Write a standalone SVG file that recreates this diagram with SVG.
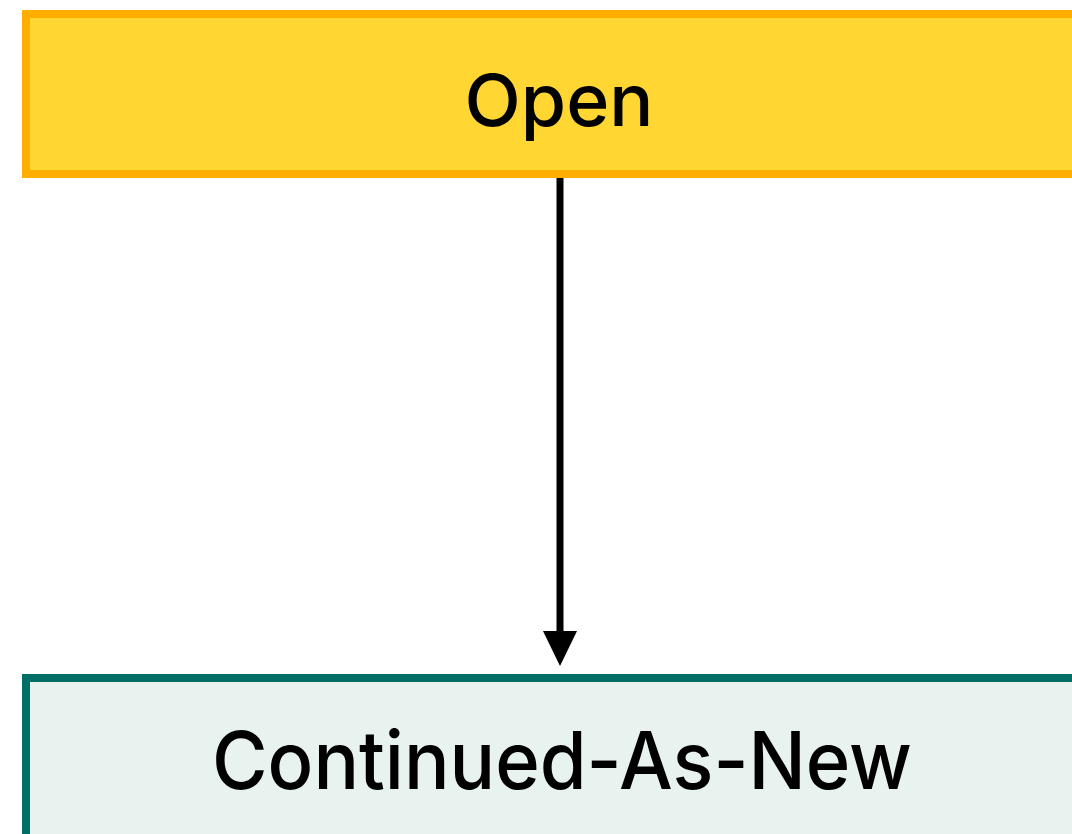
<svg xmlns="http://www.w3.org/2000/svg" width="1072" height="834" viewBox="0 0 1072 834">
<style>
.lbl{font-family:Inter,"Liberation Sans",Arial,sans-serif;font-weight:500;fill:#000;text-anchor:middle}
</style>
<rect width="1072" height="834" fill="#fff"/>
<g id="connectors">
<line x1="560" y1="178" x2="560" y2="631" stroke="#000" stroke-width="7"/>
<path d="M543,631 L577,631 L560,666 Z" fill="#000"/>
</g>
<g id="node-open">
<rect x="26" y="14" width="1100" height="160" fill="#FFD632" stroke="#FFAE00" stroke-width="8"/>
<text class="lbl" x="559" y="126" font-size="72" textLength="189" lengthAdjust="spacingAndGlyphs">Open</text>
</g>
<g id="node-continued">
<rect x="26" y="678" width="1100" height="200" fill="#E8F3EF" stroke="#006E66" stroke-width="8"/>
<text class="lbl" x="562" y="789" font-size="80" textLength="700" lengthAdjust="spacingAndGlyphs">Continued-As-New</text>
</g>
</svg>
